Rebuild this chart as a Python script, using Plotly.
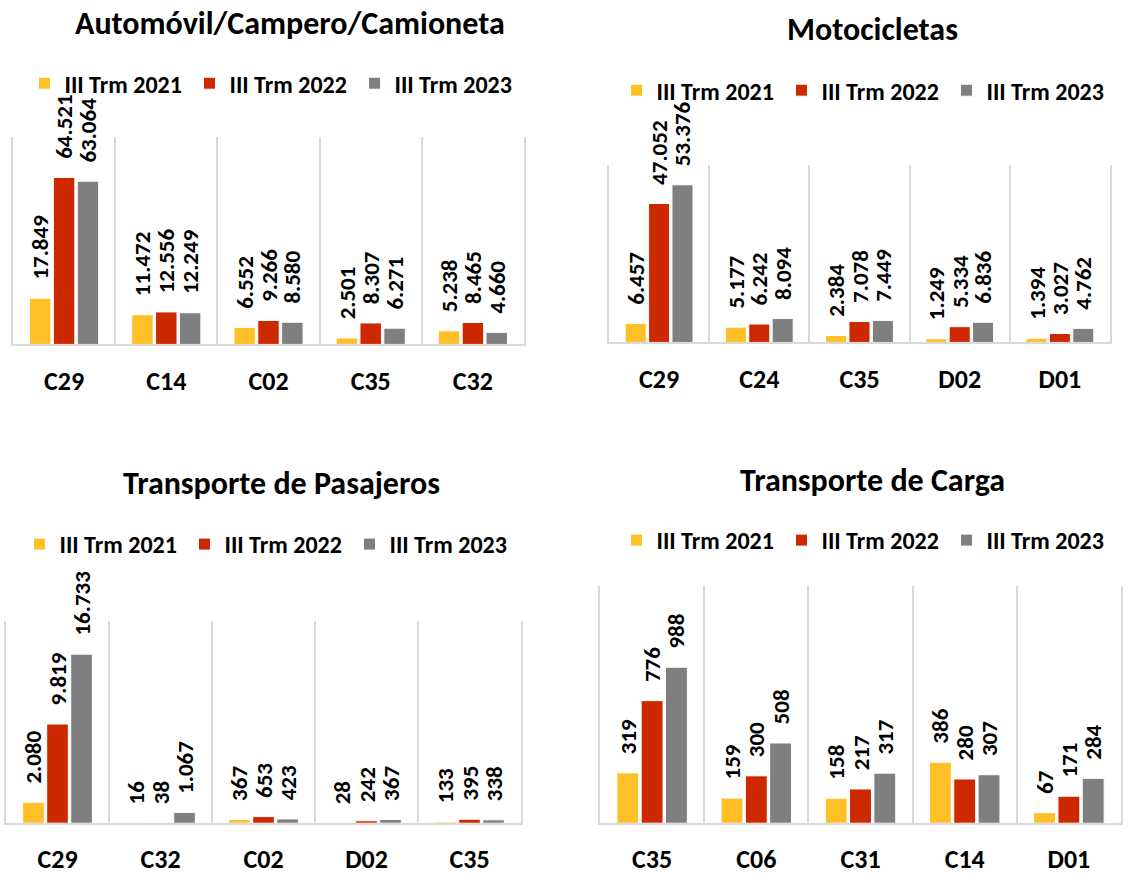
import plotly.graph_objects as go

series_names = ["III Trm 2021", "III Trm 2022", "III Trm 2023"]
colors = ["#FFC027", "#CC2900", "#7F7F7F"]

titles = ["Automóvil/Campero/Camioneta", "Motocicletas", "Transporte de Pasajeros", "Transporte de Carga"]

cats_auto = ["C29", "C14", "C02", "C35", "C32"]
auto_2021 = [17849, 11472, 6552, 2501, 5238]
auto_2022 = [64521, 12556, 9266, 8307, 8465]
auto_2023 = [63064, 12249, 8580, 6271, 4660]

cats_moto = ["C29", "C24", "C35", "D02", "D01"]
moto_2021 = [6457, 5177, 2384, 1249, 1394]
moto_2022 = [47052, 6242, 7078, 5334, 3027]
moto_2023 = [53376, 8094, 7449, 6836, 4762]

cats_pas = ["C29", "C32", "C02", "D02", "C35"]
pas_2021 = [2080, 16, 367, 28, 133]
pas_2022 = [9819, 38, 653, 242, 395]
pas_2023 = [16733, 1067, 423, 367, 338]

cats_carga = ["C35", "C06", "C31", "C14", "D01"]
carga_2021 = [319, 159, 158, 386, 67]
carga_2022 = [776, 300, 217, 280, 171]
carga_2023 = [988, 508, 317, 307, 284]

panels = [
    (cats_auto, [auto_2021, auto_2022, auto_2023], 80000),
    (cats_moto, [moto_2021, moto_2022, moto_2023], 60000),
    (cats_pas, [pas_2021, pas_2022, pas_2023], 20000),
    (cats_carga, [carga_2021, carga_2022, carga_2023], 1500),
]

W, H = 1135, 875
FONT = "Carlito, Lato, sans-serif"

# pixel boxes of plot areas: (x0, x1, ytop, ybottom)
boxes = [(13, 524, 138, 346), (609, 1110, 166, 344), (6, 521, 624, 827), (600, 1121, 589, 827)]
title_pos = [(290, 24), (872, 30), (281, 486), (872, 483)]
legend_pos = [(272, 84), (864, 91), (267, 547), (864, 543)]

fig = go.Figure()
layout = dict(
    width=W, height=H, margin=dict(l=0, r=0, t=0, b=0),
    paper_bgcolor="white", plot_bgcolor="white",
    separators=",.", barmode="group", bargap=0.3, bargroupgap=0.1,
    font=dict(family=FONT, color="black"),
    annotations=[],
)

for i, (cats, vals, ymax) in enumerate(panels):
    sfx = "" if i == 0 else str(i + 1)
    leg = "legend" + sfx
    for j in range(3):
        fig.add_trace(go.Bar(
            x=cats, y=vals[j], name=series_names[j],
            marker=dict(color=colors[j], line=dict(color="white", width=1)),
            texttemplate="\u00a0\u00a0\u00a0%{y:,}", textposition="outside",
            textangle=-90, constraintext="none", cliponaxis=False,
            textfont=dict(family=FONT, size=23, color="black", weight="bold"),
            xaxis="x" + sfx, yaxis="y" + sfx, legend=leg,
            hoverinfo="skip",
        ))
    x0, x1, yt, yb = boxes[i]
    layout["xaxis" + sfx] = dict(
        domain=[x0 / W, x1 / W], anchor="y" + sfx, type="category",
        range=[-0.5, 4.5], tickson="boundaries", ticks="",
        showgrid=True, gridcolor="#D9D9D9", gridwidth=1.5,
        showline=True, linecolor="#D9D9D9", linewidth=2,
        tickfont=dict(family=FONT, size=26, color="black", weight="bold"),
        ticklabelstandoff=12, fixedrange=True,
    )
    layout["yaxis" + sfx] = dict(
        domain=[1 - yb / H, 1 - yt / H], anchor="x" + sfx,
        range=[0, ymax], showticklabels=False, showgrid=False,
        zeroline=False, showline=True, mirror=True,
        linecolor="#D9D9D9", linewidth=1.5, ticks="", fixedrange=True,
    )
    lx, ly = legend_pos[i]
    layout[leg] = dict(
        orientation="h", x=lx / W, y=1 - ly / H, xanchor="center", yanchor="middle",
        font=dict(family=FONT, size=24, color="black", weight="bold"),
        bgcolor="rgba(0,0,0,0)", entrywidth=120,
    )
    tx, ty = title_pos[i]
    layout["annotations"].append(dict(
        text=titles[i], x=tx / W, y=1 - ty / H, xref="paper", yref="paper",
        xanchor="center", yanchor="middle", showarrow=False,
        font=dict(family=FONT, size=32, color="black", weight="bold"),
    ))

fig.update_layout(**layout)
fig.write_html("out.html", config={"displayModeBar": False},
               post_script="document.body.style.margin='0';")
